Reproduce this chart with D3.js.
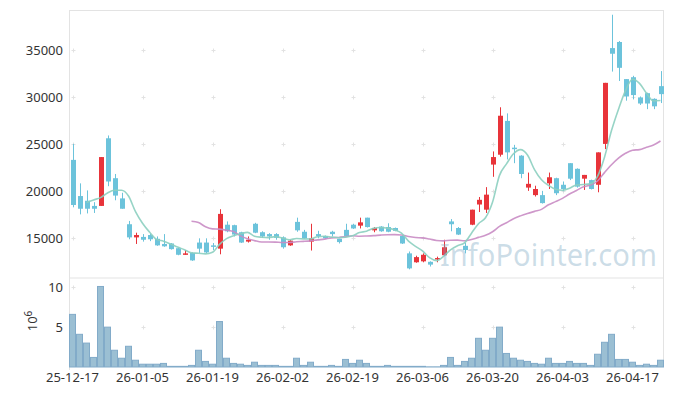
<!DOCTYPE html>
<html><head><meta charset="utf-8">
<script src="https://cdn.jsdelivr.net/npm/d3@7"></script>
<style>html,body{margin:0;padding:0;background:#fff;}svg{display:block;}</style>
</head><body>
<svg id="c" width="673" height="396"></svg>
<script>
// trading dates (categories)
const dates = ["25-12-17","25-12-18","25-12-19","25-12-22","25-12-23","25-12-24","25-12-26","25-12-29","25-12-30","26-01-02",
"26-01-05","26-01-06","26-01-07","26-01-08","26-01-09","26-01-12","26-01-13","26-01-14","26-01-15","26-01-16",
"26-01-19","26-01-20","26-01-21","26-01-22","26-01-23","26-01-26","26-01-27","26-01-28","26-01-29","26-01-30",
"26-02-02","26-02-03","26-02-04","26-02-05","26-02-06","26-02-09","26-02-10","26-02-11","26-02-12","26-02-13",
"26-02-19","26-02-20","26-02-23","26-02-24","26-02-25","26-02-26","26-02-27","26-03-03","26-03-04","26-03-05",
"26-03-06","26-03-09","26-03-10","26-03-11","26-03-12","26-03-13","26-03-16","26-03-17","26-03-18","26-03-19",
"26-03-20","26-03-23","26-03-24","26-03-25","26-03-26","26-03-27","26-03-30","26-03-31","26-04-01","26-04-02",
"26-04-03","26-04-06","26-04-07","26-04-08","26-04-09","26-04-10","26-04-13","26-04-14","26-04-15","26-04-16",
"26-04-17","26-04-20","26-04-21","26-04-22","26-04-23"];
const opens = [23300,19450,18950,18400,18400,25600,21350,19200,16450,15050,
15100,15300,14900,14350,14400,13900,13300,13400,14500,14500,
14200,13850,16400,16350,15600,14600,16500,15600,15400,15400,
15050,14200,16700,15650,14600,15400,15200,15650,14900,15850,
16400,16300,17150,15800,16200,16150,16050,15200,13350,12400,
12500,12450,12750,13150,16750,16050,14150,16400,18550,18000,
22800,23850,27450,24600,23750,20350,19550,19550,20800,21350,
20650,22950,22350,21300,21150,20650,25000,35200,35850,31900,
32100,29950,30400,29800,31150];
const highs = [25000,20800,20050,18800,23600,25900,21800,19800,16800,15550,
15400,15450,15150,15400,14450,13950,13700,13450,14950,14950,
14450,18050,16750,16400,15650,15150,16600,15700,15500,15500,
15150,14800,17150,15850,16500,15750,15250,15750,14900,16500,
16500,17150,17150,16150,16250,16550,16100,15250,13550,13100,
13350,12500,13000,14800,17000,16150,14450,18000,19350,20400,
24200,28900,28250,24900,23800,21950,20550,20000,21950,21400,
21000,22950,22400,21700,21200,24100,31500,38750,35950,31900,
32250,30050,30450,29850,32750];
const lows = [18250,17500,17600,17650,18400,20500,19000,18100,14850,14350,
14600,14650,14150,14050,13750,13150,13200,12550,13400,13350,
13700,13250,15600,15150,14450,14500,15500,15000,14800,14800,
13850,14150,15650,14900,13650,14950,14900,15150,14400,15150,
15950,16000,16100,15600,15650,15600,15700,14350,11650,12350,
12400,11950,12400,13100,15700,15300,13350,16350,17750,17650,
21500,23650,23350,22950,21350,20000,19400,18650,20200,19550,
19950,21150,20350,20100,20150,19850,24450,32700,31700,29600,
29750,29150,28700,28700,29350];
const closes = [18500,18100,18100,18100,23600,21000,19500,18100,15050,15300,
14800,14850,14200,14100,13800,13200,13350,12600,13850,13450,
14050,17550,15700,15350,14500,14800,15550,15150,15150,15000,
14000,14700,15800,14950,14950,15200,14950,15400,14550,15200,
16000,16650,16150,16050,15700,15650,15750,14400,11750,12950,
13200,12150,12850,14000,16450,15350,13700,18000,19050,19600,
23600,28000,24100,24450,21800,20750,20200,18700,21450,19750,
20200,21300,20450,21700,20200,24100,31500,34600,33100,30050,
30200,29300,29300,29000,30300];
// closes of the two sessions before the first shown date (used by the moving averages)
const priorCloses = [16700, 22400];
// volume, millions of shares
const volumes = [6.6,4.1,3.0,1.2,10.1,5.0,2.1,1.1,2.6,0.85,
0.35,0.35,0.35,0.45,0.08,0.08,0.08,0.2,2.1,0.7,
0.35,5.7,1.1,0.45,0.35,0.2,0.6,0.2,0.2,0.2,
0.08,0.08,1.1,0.2,0.6,0.08,0.08,0.2,0.08,0.95,
0.45,0.85,0.45,0.08,0.08,0.2,0.08,0.08,0.08,0.08,
0.08,0.02,0.02,0.2,1.2,0.2,0.7,1.1,3.6,2.1,
3.6,5.0,1.7,1.1,0.85,0.7,0.45,0.35,1.1,0.45,
0.45,0.7,0.45,0.45,0.2,1.6,3.1,4.1,0.95,0.95,
0.6,0.2,0.35,0.2,0.85];
const priceTicks = [15000,20000,25000,30000,35000];
const volumeTicks = [5,10];
const xTickEvery = 10;

const svg = d3.select("#c");
const L = 69, R = 664, PT = 10, PB = 277.5, VB = 367;
const FONT = "'Noto Sans', sans-serif";

const idx = d3.range(dates.length);
const x = d3.scaleBand().domain(idx).range([L, R]).padding(0);
const cx = i => x(i) + x.bandwidth() / 2;
const y = d3.scaleLinear().domain([10780, 39255]).range([PB, PT]);
const yv = d3.scaleLinear().domain([0, 11.1]).range([VB, PB + 1]);

const xTickIdx = idx.filter(i => i % xTickEvery === 0);

// frame
const frame = svg.append("g").attr("stroke", "#e3e3e3").attr("stroke-width", 1).attr("fill", "none");
frame.append("line").attr("x1", L).attr("x2", R - 1).attr("y1", PT + 0.5).attr("y2", PT + 0.5);
frame.append("line").attr("x1", L + 0.5).attr("x2", L + 0.5).attr("y1", PT).attr("y2", VB + 3);
frame.append("line").attr("x1", R - 0.5).attr("x2", R - 0.5).attr("y1", PT).attr("y2", VB);
frame.append("line").attr("x1", L).attr("x2", R).attr("y1", PB + 0.5).attr("y2", PB + 0.5);

// plus-shaped grid markers
function pluses(ys, sc) {
  const g = svg.append("g").attr("stroke", "#e2e2e2").attr("stroke-width", 1);
  xTickIdx.forEach(i => ys.forEach(v => {
    const px = Math.round(cx(i)) + 0.5, py = Math.round(sc(v)) + 0.5;
    g.append("line").attr("x1", px - 2).attr("x2", px + 2).attr("y1", py).attr("y2", py);
    g.append("line").attr("x1", px).attr("x2", px).attr("y1", py - 2).attr("y2", py + 2);
  }));
}
pluses(priceTicks, y);
pluses(volumeTicks, yv);

// volume bars
svg.append("g").selectAll("rect").data(idx).join("rect")
  .attr("x", i => x(i) + 0.5).attr("width", x.bandwidth() - 1)
  .attr("y", i => yv(volumes[i])).attr("height", i => VB - yv(volumes[i]))
  .attr("fill", "#9bbfd3").attr("stroke", "#82abc9").attr("stroke-width", 1);

// candles
const up = i => closes[i] >= opens[i];
const cg = svg.append("g");
cg.selectAll("line").data(idx).join("line")
  .attr("x1", i => Math.round(cx(i)) + 0.5).attr("x2", i => Math.round(cx(i)) + 0.5)
  .attr("y1", i => y(highs[i])).attr("y2", i => y(lows[i]))
  .attr("stroke", i => up(i) ? "#e8343a" : "#6cc3db").attr("stroke-width", 1);
cg.selectAll("rect").data(idx).join("rect")
  .attr("x", i => Math.round(cx(i)) - 2).attr("width", 5)
  .attr("y", i => y(Math.max(opens[i], closes[i])))
  .attr("height", i => Math.max(1.5, Math.abs(y(opens[i]) - y(closes[i]))))
  .attr("fill", i => up(i) ? "#e8343a" : "#6cc3db");

// moving averages
const allCloses = priorCloses.concat(closes);
function ma(n) {
  return idx.map(i => {
    const k = i + priorCloses.length;
    return k >= n - 1 ? d3.mean(allCloses.slice(k - n + 1, k + 1)) : null;
  });
}
const ma5 = ma(5), ma20 = ma(20);
const line = d3.line().defined(d => d[1] != null).x(d => cx(d[0])).y(d => y(d[1])).curve(d3.curveMonotoneX);
svg.append("path").attr("d", line(idx.map(i => [i, ma20[i]])))
  .attr("fill", "none").attr("stroke", "#c98cc4").attr("stroke-width", 1.6).attr("opacity", 0.9);
svg.append("path").attr("d", line(idx.map(i => [i, ma5[i]])))
  .attr("fill", "none").attr("stroke", "#8ccfc0").attr("stroke-width", 1.6).attr("opacity", 0.9);

// watermark
svg.append("text").attr("x", 440).attr("y", 265.5).text("InfoPointer.com")
  .attr("font-family", FONT).attr("font-size", 31).attr("textLength", 217).attr("lengthAdjust", "spacingAndGlyphs")
  .attr("fill", "rgb(120,165,192)").attr("fill-opacity", 0.38);

// axes
const yAxis = d3.axisLeft(y).tickValues(priceTicks).tickSize(0).tickPadding(0).tickFormat(d3.format("d"));
const ga = svg.append("g").attr("transform", `translate(${L - 6},0)`).call(yAxis);
ga.select(".domain").remove();
ga.selectAll("text").attr("font-family", FONT).attr("font-size", 13).attr("fill", "#333");

const vAxis = d3.axisLeft(yv).tickValues(volumeTicks).tickSize(0).tickPadding(0).tickFormat(d3.format("d"));
const gv = svg.append("g").attr("transform", `translate(${L - 6},0)`).call(vAxis);
gv.select(".domain").remove();
gv.selectAll("text").attr("font-family", FONT).attr("font-size", 13).attr("fill", "#333");

const xAxis = d3.axisBottom(x).tickValues(xTickIdx).tickSize(0).tickPadding(0).tickFormat(i => dates[i]);
const gx = svg.append("g").attr("transform", `translate(0,${VB + 6})`).call(xAxis);
gx.select(".domain").remove();
gx.selectAll("text").attr("font-family", FONT).attr("font-size", 13).attr("fill", "#333").attr("dy", "0.71em");

const vl = svg.append("text").attr("transform", "translate(37,321) rotate(-90)")
  .attr("text-anchor", "middle").attr("font-family", FONT).attr("font-size", 13).attr("fill", "#333");
vl.append("tspan").text("10");
vl.append("tspan").attr("dy", -5).attr("font-size", 10).text("6");
</script>
</body></html>
